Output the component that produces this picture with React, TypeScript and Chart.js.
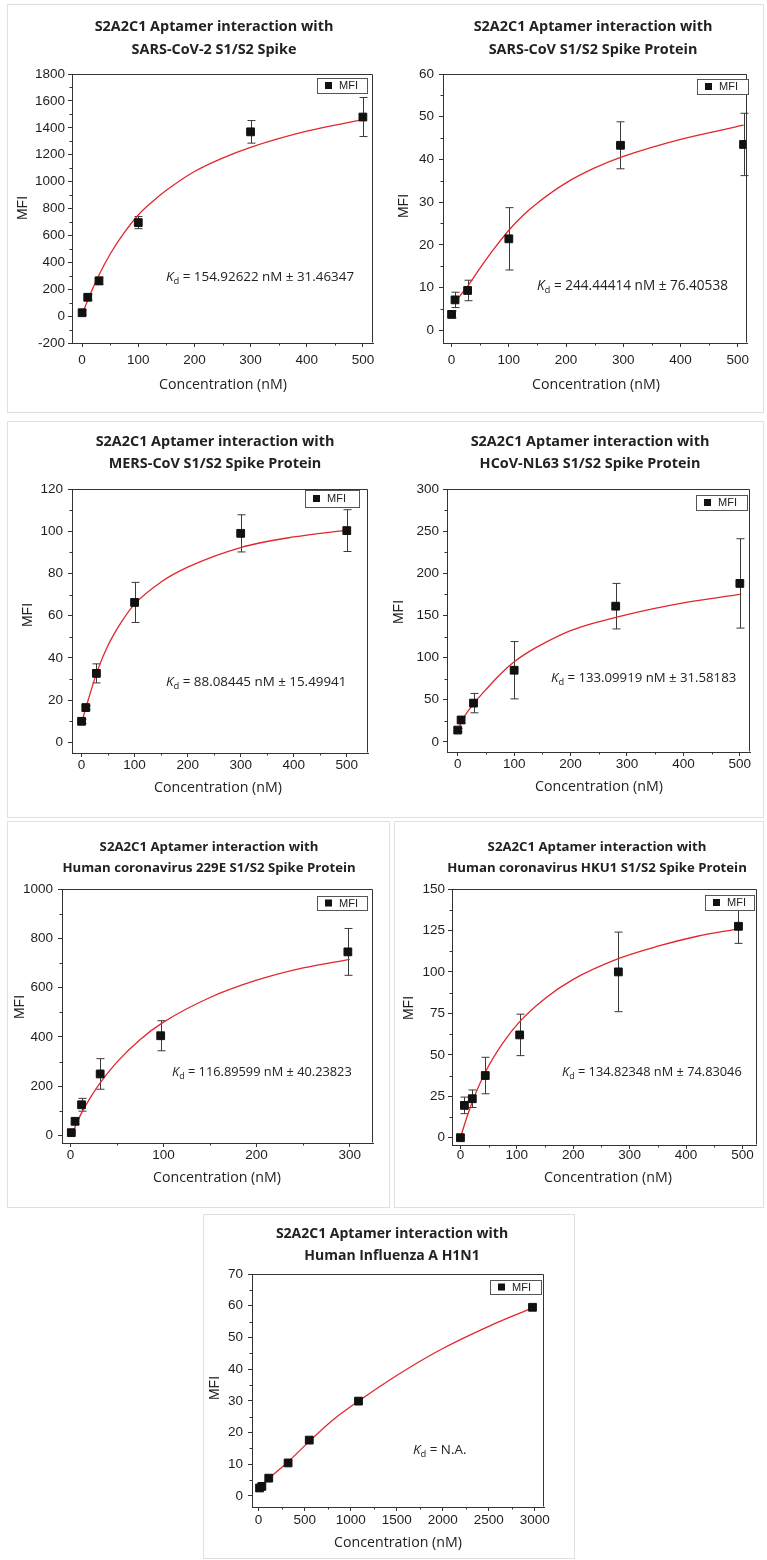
import React, { useEffect, useRef } from "react";
import { Chart, registerables } from "chart.js";

Chart.register(...registerables);

const TITLE_TOP = "S2A2C1 Aptamer interaction with";

// ---------- Panel 1: SARS-CoV-2 ----------
const p1Conc = [0, 10, 30, 100, 300, 500];
const p1Mfi = [25, 140, 262, 695, 1370, 1480];
const p1Err = [18, 22, 28, 45, 84, 145];
const p1FitConc = [0, 10, 30, 50, 75, 100, 125, 150, 200, 250, 300, 400, 500];
const p1FitMfi = [10, 118, 305, 462, 620, 752, 850, 935, 1075, 1175, 1255, 1375, 1460];
const p1XTicks = [0, 100, 200, 300, 400, 500];
const p1YTicks = [-200, 0, 200, 400, 600, 800, 1000, 1200, 1400, 1600, 1800];

// ---------- Panel 2: SARS-CoV ----------
const p2Conc = [0, 6, 28, 100, 295, 510];
const p2Mfi = [3.7, 7.1, 9.3, 21.4, 43.3, 43.5];
const p2Err = [0.8, 1.8, 2.4, 7.3, 5.5, 7.3];
const p2FitConc = [6, 28, 50, 75, 100, 125, 150, 200, 250, 300, 400, 510];
const p2FitMfi = [6.6, 10.3, 14.6, 19.2, 23.4, 26.9, 29.8, 34.5, 38.0, 40.7, 44.7, 48.0];
const p2XTicks = [0, 100, 200, 300, 400, 500];
const p2YTicks = [0, 10, 20, 30, 40, 50, 60];

// ---------- Panel 3: MERS-CoV ----------
const p3Conc = [0, 8, 28, 100, 300, 500];
const p3Mfi = [10, 16.5, 32.7, 66.3, 99, 100.3];
const p3Err = [1, 1, 4.5, 9.5, 8.8, 9.9];
const p3FitConc = [2, 10, 30, 50, 75, 100, 150, 200, 300, 400, 500];
const p3FitMfi = [11, 18, 34, 46, 57, 65.5, 76, 83, 92.3, 97.3, 100.5];
const p3XTicks = [0, 100, 200, 300, 400, 500];
const p3YTicks = [0, 20, 40, 60, 80, 100, 120];

// ---------- Panel 4: HCoV-NL63 ----------
const p4Conc = [0, 6, 28, 100, 280, 500];
const p4Mfi = [14, 26, 46, 85, 161, 188];
const p4Err = [2, 4, 11.5, 34, 27, 53];
const p4FitConc = [3, 10, 28, 50, 75, 100, 125, 150, 200, 300, 400, 500];
const p4FitMfi = [18, 28, 45, 62, 80, 95, 106.5, 116, 132, 151, 165, 175];
const p4XTicks = [0, 100, 200, 300, 400, 500];
const p4YTicks = [0, 50, 100, 150, 200, 250, 300];

// ---------- Panel 5: HCoV-229E ----------
const p5Conc = [1, 5, 12, 32, 97, 298];
const p5Mfi = [12, 58, 125, 250, 405, 745];
const p5Err = [5, 12, 26, 62, 61, 95];
const p5FitConc = [2, 5, 12, 20, 32, 50, 75, 100, 150, 200, 250, 300];
const p5FitMfi = [12, 35, 92, 145, 214, 298, 390, 460, 560, 630, 680, 715];
const p5XTicks = [0, 100, 200, 300];
const p5YTicks = [0, 200, 400, 600, 800, 1000];

// ---------- Panel 6: HCoV-HKU1 ----------
const p6Conc = [0, 7, 21, 44, 105, 280, 493];
const p6Mfi = [0, 19.5, 23.5, 37.5, 62, 100, 127.5];
const p6Err = [0, 5, 5.3, 11, 12.5, 24, 10.3];
const p6FitConc = [0, 10, 22, 44, 75, 105, 150, 200, 280, 350, 420, 493];
const p6FitMfi = [0, 11, 22.5, 39.5, 57, 70, 84, 95.5, 108, 115.5, 121.5, 126];
const p6XTicks = [0, 100, 200, 300, 400, 500];
const p6YTicks = [0, 25, 50, 75, 100, 125, 150];

// ---------- Panel 7: Influenza A H1N1 ----------
const p7Conc = [10, 35, 110, 320, 550, 1085, 2975];
const p7Mfi = [2.5, 3, 5.6, 10.4, 17.6, 29.9, 59.5];
const p7Err = [0, 0, 0, 0, 0, 0, 0];
const p7FitConc = [100, 300, 550, 800, 1085, 1500, 2000, 2500, 2975];
const p7FitMfi = [5.3, 10.2, 17.2, 23.8, 29.9, 38.0, 46.5, 53.5, 59.3];
const p7XTicks = [0, 500, 1000, 1500, 2000, 2500, 3000];
const p7YTicks = [0, 10, 20, 30, 40, 50, 60, 70];

type PanelCfg = {
  subtitle: string;
  kd: string;
  conc: number[];
  mfi: number[];
  err: number[];
  fitConc: number[];
  fitMfi: number[];
  xTicks: number[];
  yTicks: number[];
  xMin: number;
  xMax: number;
  yMin: number;
  yMax: number;
  canvas: [number, number, number, number];
  plot: [number, number, number, number];
  title: [number, number, number];
  titleSize: number;
  kdSize: number;
  yTitle: [number, number];
  xTitle: [number, number];
  legend: [number, number, number, number];
  kdPos: [number, number];
  xPad: number;
  yPad: number;
};

const panels: PanelCfg[] = [
  {
    subtitle: "SARS-CoV-2 S1/S2 Spike", kd: "154.92622 nM \u00b1 31.46347",
    conc: p1Conc, mfi: p1Mfi, err: p1Err, fitConc: p1FitConc, fitMfi: p1FitMfi,
    xTicks: p1XTicks, yTicks: p1YTicks, xMin: -18, xMax: 518, yMin: -200, yMax: 1800,
    canvas: [8, 5, 380, 407], plot: [72, 74, 373, 343],
    title: [214, 27, 50], titleSize: 14.4, kdSize: 13.4, yTitle: [23, 208], xTitle: [223, 385],
    legend: [317, 78, 367, 93], kdPos: [166, 277], xPad: 5, yPad: 3,
  },
  {
    subtitle: "SARS-CoV S1/S2 Spike Protein", kd: "244.44414 nM \u00b1 76.40538",
    conc: p2Conc, mfi: p2Mfi, err: p2Err, fitConc: p2FitConc, fitMfi: p2FitMfi,
    xTicks: p2XTicks, yTicks: p2YTicks, xMin: -15, xMax: 516, yMin: -3, yMax: 60,
    canvas: [388, 5, 375, 407], plot: [443, 74, 747, 343],
    title: [593, 27, 50], titleSize: 14.4, kdSize: 13.6, yTitle: [404, 206], xTitle: [596, 385],
    legend: [697, 79, 748, 94], kdPos: [537, 286], xPad: 5, yPad: 5,
  },
  {
    subtitle: "MERS-CoV S1/S2 Spike Protein", kd: "88.08445 nM \u00b1 15.49941",
    conc: p3Conc, mfi: p3Mfi, err: p3Err, fitConc: p3FitConc, fitMfi: p3FitMfi,
    xTicks: p3XTicks, yTicks: p3YTicks, xMin: -18, xMax: 540, yMin: -5, yMax: 120,
    canvas: [8, 422, 380, 395], plot: [72, 489, 368, 753],
    title: [215, 442, 464], titleSize: 14.4, kdSize: 13.4, yTitle: [28, 615], xTitle: [218, 788],
    legend: [305, 490, 359, 507], kdPos: [166, 682], xPad: 0, yPad: 5,
  },
  {
    subtitle: "HCoV-NL63 S1/S2 Spike Protein", kd: "133.09919 nM \u00b1 31.58183",
    conc: p4Conc, mfi: p4Mfi, err: p4Err, fitConc: p4FitConc, fitMfi: p4FitMfi,
    xTicks: p4XTicks, yTicks: p4YTicks, xMin: -19, xMax: 518, yMin: -12, yMax: 300,
    canvas: [388, 422, 375, 395], plot: [447, 489, 750, 752],
    title: [590, 442, 464], titleSize: 14.4, kdSize: 13.2, yTitle: [399, 612], xTitle: [599, 787],
    legend: [696, 495, 747, 510], kdPos: [551, 678], xPad: 0, yPad: 4,
  },
  {
    subtitle: "Human coronavirus 229E S1/S2 Spike Protein", kd: "116.89599 nM \u00b1 40.23823",
    conc: p5Conc, mfi: p5Mfi, err: p5Err, fitConc: p5FitConc, fitMfi: p5FitMfi,
    xTicks: p5XTicks, yTicks: p5YTicks, xMin: -9, xMax: 325, yMin: -30, yMax: 1000,
    canvas: [8, 822, 381, 385], plot: [62, 889, 373, 1143],
    title: [209, 847, 868], titleSize: 13.2, kdSize: 12.8, yTitle: [20, 1007], xTitle: [217, 1178],
    legend: [317, 896, 367, 910], kdPos: [172, 1072], xPad: 0, yPad: 5,
  },
  {
    subtitle: "Human coronavirus HKU1 S1/S2 Spike Protein", kd: "134.82348 nM \u00b1 74.83046",
    conc: p6Conc, mfi: p6Mfi, err: p6Err, fitConc: p6FitConc, fitMfi: p6FitMfi,
    xTicks: p6XTicks, yTicks: p6YTicks, xMin: -15, xMax: 525, yMin: -4.4, yMax: 150,
    canvas: [395, 822, 368, 385], plot: [452, 889, 757, 1145],
    title: [597, 847, 868], titleSize: 13.2, kdSize: 12.8, yTitle: [409, 1008], xTitle: [608, 1178],
    legend: [705, 895, 754, 910], kdPos: [562, 1072], xPad: -2, yPad: 3,
  },
  {
    subtitle: "Human Influenza A H1N1", kd: "N.A.",
    conc: p7Conc, mfi: p7Mfi, err: p7Err, fitConc: p7FitConc, fitMfi: p7FitMfi,
    xTicks: p7XTicks, yTicks: p7YTicks, xMin: -72, xMax: 3100, yMin: -3.5, yMax: 70,
    canvas: [204, 1215, 370, 344], plot: [252, 1274, 544, 1507],
    title: [392, 1234, 1256], titleSize: 14, kdSize: 13.4, yTitle: [215, 1388], xTitle: [398, 1543],
    legend: [490, 1280, 541, 1294], kdPos: [413, 1450], xPad: 1, yPad: 5,
  },
];

const boxes = [
  [7, 4, 757, 409],
  [7, 421, 757, 397],
  [7, 821, 383, 387],
  [394, 821, 370, 387],
  [203, 1214, 372, 345],
];

const WY = 44;
const HX = 40;
const TICK_FONT = { family: "'Liberation Sans', Arial, sans-serif", size: 13.5 };
const AXIS_COLOR = "#333";

function midpoints(t: number[]) {
  const out: number[] = [];
  for (let i = 0; i < t.length - 1; i++) out.push((t[i] + t[i + 1]) / 2);
  return out;
}

function Panel({ cfg }: { cfg: PanelCfg }) {
  const ref = useRef<HTMLCanvasElement>(null);
  const [cx, cy, cw, ch] = cfg.canvas;
  useEffect(() => {
    const canvas = ref.current!;
    const [L, T, R, B] = cfg.plot;
    const decor = {
      id: "decor",
      beforeDatasetsDraw(chart: any) {
        const ctx = chart.ctx;
        const xs = chart.scales.x;
        const ys = chart.scales.y;
        ctx.save();
        ctx.strokeStyle = "#3a3a3a";
        ctx.lineWidth = 1;
        cfg.conc.forEach((c, i) => {
          const e = cfg.err[i];
          if (!e) return;
          const px = Math.round(xs.getPixelForValue(c)) + 0.5;
          const top = ys.getPixelForValue(cfg.mfi[i] + e);
          const bot = ys.getPixelForValue(cfg.mfi[i] - e);
          ctx.beginPath();
          ctx.moveTo(px, top);
          ctx.lineTo(px, bot);
          ctx.moveTo(px - 4, top);
          ctx.lineTo(px + 4, top);
          ctx.moveTo(px - 4, bot);
          ctx.lineTo(px + 4, bot);
          ctx.stroke();
        });
        ctx.restore();
      },
      afterDraw(chart: any) {
        const ctx = chart.ctx;
        const a = chart.chartArea;
        const xs = chart.scales.x;
        const ys = chart.scales.y;
        ctx.save();
        // frame (top & right)
        ctx.strokeStyle = AXIS_COLOR;
        ctx.lineWidth = 1;
        const l = Math.round(a.left) + 0.5;
        const t = Math.round(a.top) + 0.5;
        const r = Math.round(a.right) - 0.5;
        const b = Math.round(a.bottom) - 0.5;
        ctx.beginPath();
        ctx.moveTo(l, t);
        ctx.lineTo(r, t);
        ctx.lineTo(r, b);
        ctx.stroke();
        // minor ticks
        ctx.beginPath();
        midpoints(cfg.xTicks).forEach((v) => {
          const p = Math.round(xs.getPixelForValue(v)) + 0.5;
          ctx.moveTo(p, a.bottom);
          ctx.lineTo(p, a.bottom + 2.5);
        });
        midpoints(cfg.yTicks).forEach((v) => {
          const p = Math.round(ys.getPixelForValue(v)) + 0.5;
          ctx.moveTo(a.left, p);
          ctx.lineTo(a.left - 2.5, p);
        });
        ctx.stroke();

        // title
        ctx.fillStyle = "#222";
        ctx.textAlign = "center";
        ctx.textBaseline = "middle";
        ctx.font = `bold ${cfg.titleSize}px 'Open Sans', sans-serif`;
        ctx.fillText(TITLE_TOP, cfg.title[0] - cx, cfg.title[1] - cy);
        ctx.fillText(cfg.subtitle, cfg.title[0] - cx, cfg.title[2] - cy);

        // axis titles
        ctx.font = "14.2px 'Open Sans', sans-serif";
        ctx.fillStyle = "#222";
        ctx.fillText("Concentration (nM)", cfg.xTitle[0] - cx, cfg.xTitle[1] - cy);
        ctx.save();
        ctx.translate(cfg.yTitle[0] - cx, cfg.yTitle[1] - cy);
        ctx.rotate(-Math.PI / 2);
        ctx.font = "14px 'Liberation Sans', Arial, sans-serif";
        ctx.fillText("MFI", 0, 0);
        ctx.restore();

        // legend
        const [lx0, ly0, lx1, ly1] = cfg.legend;
        const gx = lx0 - cx;
        const gy = ly0 - cy;
        const gw = lx1 - lx0;
        const gh = ly1 - ly0;
        ctx.fillStyle = "#fff";
        ctx.fillRect(gx, gy, gw, gh);
        ctx.strokeStyle = "#555";
        ctx.lineWidth = 1;
        ctx.strokeRect(Math.round(gx) + 0.5, Math.round(gy) + 0.5, gw, gh);
        ctx.fillStyle = "#111";
        ctx.fillRect(gx + 8, gy + gh / 2 - 3.5, 7, 7);
        ctx.font = "11px 'Liberation Sans', Arial, sans-serif";
        ctx.textAlign = "left";
        ctx.fillStyle = "#222";
        ctx.fillText("MFI", gx + 22, gy + gh / 2 + 0.5);

        // Kd annotation
        let kx = cfg.kdPos[0] - cx;
        const ky = cfg.kdPos[1] - cy;
        const ks = cfg.kdSize;
        ctx.textAlign = "left";
        ctx.font = `italic ${ks}px 'Open Sans', sans-serif`;
        ctx.fillText("K", kx, ky);
        kx += ctx.measureText("K").width;
        ctx.font = `${ks * 0.7}px 'Open Sans', sans-serif`;
        ctx.fillText("d", kx, ky + 4);
        kx += ctx.measureText("d").width;
        ctx.font = `${ks}px 'Open Sans', sans-serif`;
        ctx.fillText(" = " + cfg.kd, kx, ky);
        ctx.restore();
      },
    };

    const chart = new Chart(canvas, {
      type: "scatter",
      data: {
        datasets: [
          {
            label: "MFI",
            data: cfg.conc.map((c, i) => ({ x: c, y: cfg.mfi[i] })),
            pointStyle: "rect",
            pointRadius: 5.5,
            pointHoverRadius: 5.5,
            backgroundColor: "#111",
            borderColor: "#111",
            borderWidth: 1,
            showLine: false,
          },
          {
            label: "fit",
            data: cfg.fitConc.map((c, i) => ({ x: c, y: cfg.fitMfi[i] })),
            showLine: true,
            pointRadius: 0,
            pointHoverRadius: 0,
            borderColor: "#e3262d",
            backgroundColor: "#e3262d",
            borderWidth: 1.3,
            cubicInterpolationMode: "monotone",
            fill: false,
          } as any,
        ],
      },
      options: {
        responsive: false,
        animation: false,
        devicePixelRatio: 1,
        events: [],
        layout: {
          padding: {
            left: L - cx - WY,
            top: T - cy,
            right: cx + cw - R,
            bottom: cy + ch - B - HX,
          },
        },
        plugins: {
          legend: { display: false },
          tooltip: { enabled: false },
          title: { display: false },
        },
        scales: {
          x: {
            type: "linear",
            position: "bottom",
            min: cfg.xMin,
            max: cfg.xMax,
            afterBuildTicks: (s: any) => {
              s.ticks = cfg.xTicks.map((v) => ({ value: v }));
            },
            afterFit: (s: any) => {
              s.height = HX;
            },
            grid: {
              display: true,
              drawOnChartArea: false,
              drawTicks: true,
              tickLength: 4,
              color: AXIS_COLOR,
              lineWidth: 1,
            },
            border: { display: true, color: AXIS_COLOR, width: 1 },
            ticks: {
              font: TICK_FONT,
              color: "#1e1e1e",
              padding: cfg.xPad,
              maxRotation: 0,
              autoSkip: false,
              callback: (v: any) => String(v),
            },
          },
          y: {
            type: "linear",
            position: "left",
            min: cfg.yMin,
            max: cfg.yMax,
            afterBuildTicks: (s: any) => {
              s.ticks = cfg.yTicks.map((v) => ({ value: v }));
            },
            afterFit: (s: any) => {
              s.width = WY;
            },
            grid: {
              display: true,
              drawOnChartArea: false,
              drawTicks: true,
              tickLength: 4,
              color: AXIS_COLOR,
              lineWidth: 1,
            },
            border: { display: true, color: AXIS_COLOR, width: 1 },
            ticks: {
              font: TICK_FONT,
              color: "#1e1e1e",
              padding: cfg.yPad,
              autoSkip: false,
              callback: (v: any) => String(v),
            },
          },
        },
      } as any,
      plugins: [decor],
    });
    return () => chart.destroy();
  }, [cfg]);
  return (
    <canvas
      ref={ref}
      width={cw}
      height={ch}
      style={{ position: "absolute", left: cx, top: cy, width: cw, height: ch }}
    />
  );
}

export default function App() {
  return (
    <div
      style={{
        position: "absolute",
        left: 0,
        top: 0,
        width: 767,
        height: 1560,
        background: "#fff",
        overflow: "hidden",
      }}
    >
      {boxes.map(([x, y, w, h], i) => (
        <div
          key={"b" + i}
          style={{
            position: "absolute",
            left: x,
            top: y,
            width: w,
            height: h,
            border: "1.5px solid #e0e0e0",
            boxSizing: "border-box",
          }}
        />
      ))}
      {panels.map((p, i) => (
        <Panel key={i} cfg={p} />
      ))}
    </div>
  );
}
